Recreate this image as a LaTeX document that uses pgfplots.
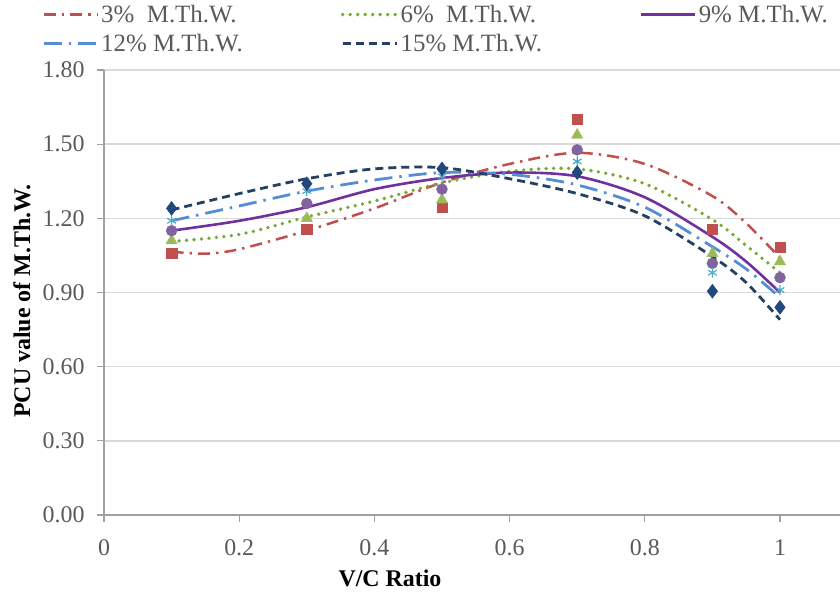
\documentclass[border=0pt]{standalone}
\usepackage{fontspec}
\setmainfont{Liberation Serif}
\usepackage{pgfplots}
\pgfplotsset{compat=1.18}

\definecolor{gridgray}{RGB}{217,217,217}
\definecolor{axisgray}{RGB}{160,160,160}
\definecolor{textgray}{RGB}{89,89,89}
\definecolor{sRed}{RGB}{192,80,77}
\definecolor{sGreen}{RGB}{155,187,89}
\definecolor{sPurple}{RGB}{128,100,162}
\definecolor{sAqua}{RGB}{75,172,198}
\definecolor{sNavy}{RGB}{31,73,125}
\definecolor{lRed}{RGB}{192,80,77}
\definecolor{lGreen}{RGB}{122,168,52}
\definecolor{lPurple}{RGB}{112,48,160}
\definecolor{lBlue}{RGB}{85,142,213}
\definecolor{lNavy}{RGB}{37,64,97}

\newcommand{\tickfont}{\fontsize{24}{28}\selectfont}
\newcommand{\labelfont}{\fontsize{24}{28}\selectfont}
\newcommand{\legendfont}{\fontsize{25}{29}\selectfont}

\begin{document}
\begin{tikzpicture}[x=1bp,y=1bp]
\begin{axis}[
  at={(104bp,79bp)}, anchor=south west,
  scale only axis, width=736bp, height=445bp,
  xmin=0, xmax=1.0888, ymin=0, ymax=1.8,
  xtick={0,0.2,0.4,0.6,0.8,1},
  ytick={0,0.3,0.6,0.9,1.2,1.5,1.8},
  axis x line*=bottom, axis y line*=left,
  axis line style={axisgray, line width=1.2bp},
  tick style={axisgray, line width=1.2bp},
  tick align=outside, major tick length=7bp,
  ymajorgrids, major grid style={gridgray, line width=1.6bp},
  clip=false,
  /pgf/number format/assume math mode=true,
  ticklabel style={font=\tickfont, text=textgray},
  yticklabel style={/pgf/number format/fixed, /pgf/number format/fixed zerofill,
    /pgf/number format/precision=2, xshift=-9bp},
  xticklabel style={/pgf/number format/fixed, yshift=-14bp},
  xlabel={\textbf{V/C Ratio}},
  ylabel={\textbf{PCU value of M.Th.W.}},
  label style={font=\labelfont, text=black},
  xlabel style={at={(axis description cs:0.3886,-0.1416)}, anchor=center},
  ylabel style={at={(axis description cs:-0.1114,0.48)}, anchor=center, rotate=0},
  legend columns=3,
  legend cell align=left,
  legend image code/.code={\draw[#1] (0bp,0bp) -- (54bp,0bp);},
  legend style={at={(axis description cs:-0.088,1.155)}, anchor=north west,
    draw=none, fill=none, font=\legendfont, text=textgray, row sep=6bp,
    /tikz/every even column/.append style={column sep=96bp}},
]
% fitted trend curves
\addplot[lRed, line width=2.5bp, dash pattern=on 12bp off 6bp on 2.5bp off 6bp, smooth] coordinates {
 (0.1,1.065) (0.15,1.057) (0.2,1.075) (0.3,1.15) (0.4,1.24) (0.5,1.345) (0.6,1.42) (0.7,1.465) (0.8,1.42) (0.9,1.29) (0.95,1.18) (1.0,1.04)};
\addlegendentry{3\%\ \ M.Th.W.}
\addplot[lGreen, line width=3.8bp, line cap=round, dash pattern=on 0bp off 7.5bp, smooth] coordinates {
 (0.1,1.106) (0.2,1.135) (0.3,1.205) (0.4,1.27) (0.5,1.343) (0.6,1.39) (0.7,1.40) (0.8,1.34) (0.9,1.195) (0.95,1.09) (1.0,0.98)};
\addlegendentry{6\%\ \ M.Th.W.}
\addplot[lPurple, line width=2.6bp, smooth] coordinates {
 (0.1,1.15) (0.2,1.19) (0.3,1.245) (0.4,1.318) (0.5,1.363) (0.6,1.385) (0.7,1.37) (0.8,1.285) (0.9,1.125) (0.95,1.025) (1.0,0.90)};
\addlegendentry{9\% M.Th.W.}
\addplot[lBlue, line width=2.8bp, dash pattern=on 18bp off 7bp on 2.5bp off 7bp, smooth] coordinates {
 (0.1,1.19) (0.2,1.25) (0.3,1.31) (0.4,1.355) (0.5,1.385) (0.6,1.378) (0.7,1.335) (0.8,1.245) (0.9,1.085) (0.95,0.995) (1.0,0.88)};
\addlegendentry{12\% M.Th.W.}
\addplot[lNavy, line width=2.8bp, dash pattern=on 8bp off 5bp, smooth] coordinates {
 (0.1,1.234) (0.2,1.30) (0.3,1.36) (0.4,1.40) (0.5,1.405) (0.6,1.36) (0.7,1.30) (0.8,1.21) (0.9,1.045) (0.95,0.94) (1.0,0.79)};
\addlegendentry{15\% M.Th.W.}

% observed PCU values
\addplot[only marks, mark=square*, mark size=5.2bp, color=sRed, forget plot] coordinates {
 (0.1,1.06) (0.3,1.155) (0.5,1.245) (0.7,1.60) (0.9,1.155) (1.0,1.083)};
\addplot[only marks, mark=triangle*, mark size=6.5bp, color=sGreen, forget plot] coordinates {
 (0.1,1.11) (0.3,1.20) (0.5,1.275) (0.7,1.537) (0.9,1.058) (1.0,1.025)};
\addplot[only marks, mark=*, mark size=5.5bp, color=sPurple, forget plot] coordinates {
 (0.1,1.15) (0.3,1.26) (0.5,1.318) (0.7,1.477) (0.9,1.018) (1.0,0.96)};
\addplot[only marks, mark=asterisk, mark size=5bp, color=sAqua, line width=1.2bp, forget plot] coordinates {
 (0.1,1.19) (0.3,1.31) (0.5,1.37) (0.7,1.43) (0.9,0.98) (1.0,0.91)};
\addplot[only marks, mark=diamond*, mark size=7bp, color=sNavy, forget plot] coordinates {
 (0.1,1.24) (0.3,1.34) (0.5,1.40) (0.7,1.385) (0.9,0.905) (1.0,0.84)};
\end{axis}
\pgfresetboundingbox
\path[use as bounding box] (0,0) rectangle (840,594);
\end{tikzpicture}
\end{document}
